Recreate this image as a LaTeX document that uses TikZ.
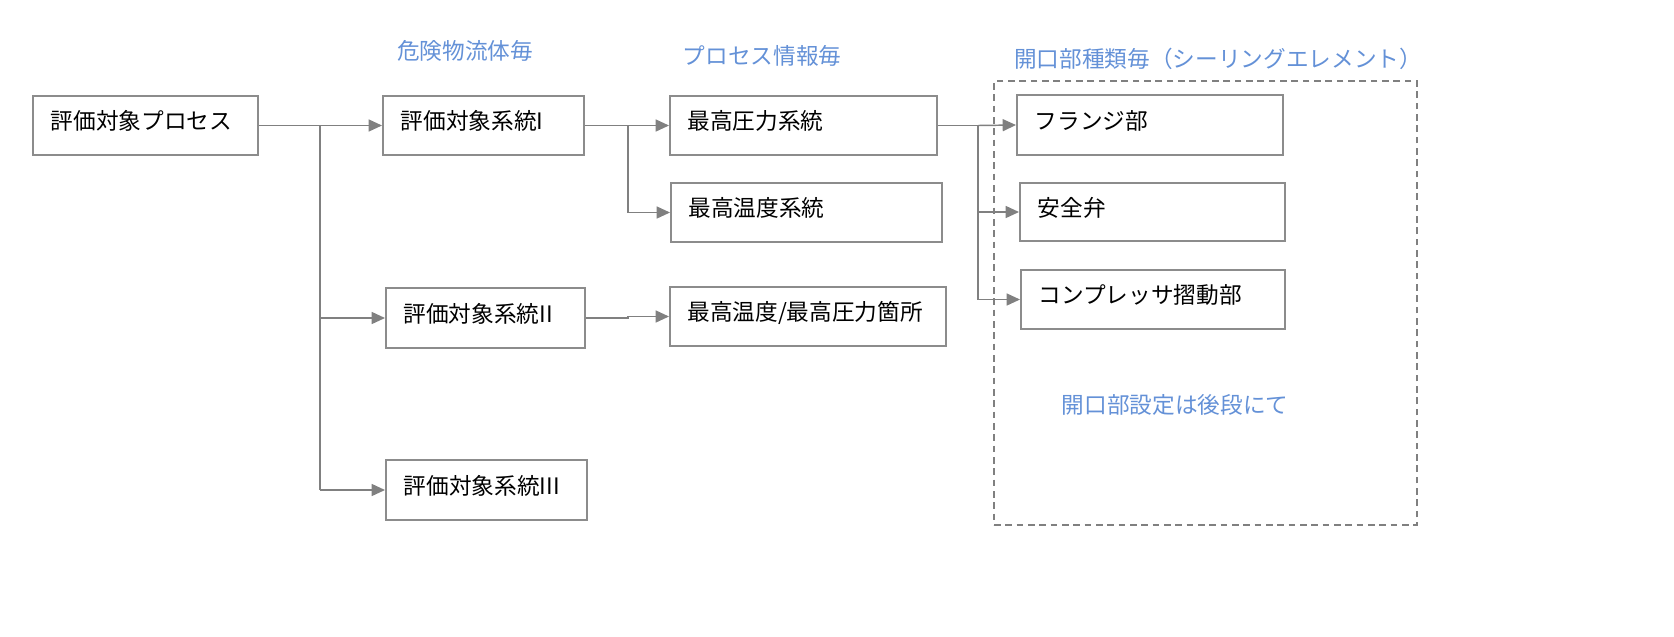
\documentclass[tikz,border=0pt]{standalone}
\usepackage{fontspec}
\setmainfont{Noto Sans CJK JP}
\usetikzlibrary{arrows.meta}
\definecolor{boxgray}{RGB}{140,140,140}
\definecolor{linegray}{RGB}{128,128,128}
\definecolor{lblblue}{RGB}{100,145,215}
\begin{document}
\begin{tikzpicture}[x=0.75pt,y=-0.75pt,
  every node/.style={font=\fontsize{17}{20}\selectfont},
  box/.style={draw=boxgray,line width=1.5pt,rectangle,inner xsep=13pt,inner ysep=0pt,
    align=left,text height=14pt,text depth=8pt},
  lbl/.style={text=lblblue,font=\fontsize{17}{20}\selectfont},
  conn/.style={draw=linegray,line width=1.1pt},
  arr/.style={conn,-{Triangle[length=10pt,width=9pt]}}]
\useasboundingbox (0,0) rectangle (1674,636);
% boxes
\node[box,minimum width=168.75pt,minimum height=44.25pt,text width=142pt] (A) at (145.5,125.5) {評価対象プロセス};
\node[box,minimum width=150.75pt,minimum height=44.25pt,text width=124pt] (B1) at (483.5,125.5) {評価対象系統I};
\node[box,minimum width=149.25pt,minimum height=45pt,text width=123pt] (B2) at (485.5,318) {評価対象系統II};
\node[box,minimum width=150.75pt,minimum height=45pt,text width=124pt] (B3) at (486.5,490) {評価対象系統III};
\node[box,minimum width=200.25pt,minimum height=44.25pt,text width=174pt] (C1) at (803.5,125.5) {最高圧力系統};
\node[box,minimum width=203.25pt,minimum height=44.25pt,text width=177pt] (C2) at (806.5,212.5) {最高温度系統};
\node[box,minimum width=207pt,minimum height=44.25pt,text width=181pt] (C3) at (808,316.5) {最高温度/最高圧力箇所};
\node[box,minimum width=199.5pt,minimum height=45pt,text width=173pt] (D1) at (1150,125) {フランジ部};
\node[box,minimum width=198.75pt,minimum height=43.5pt,text width=172pt] (D2) at (1152.5,212) {安全弁};
\node[box,minimum width=198pt,minimum height=44.25pt,text width=172pt] (D3) at (1153,299.5) {コンプレッサ摺動部};
% dashed frame
\node[draw=linegray,line width=1.1pt,dash pattern=on 5pt off 3.5pt,rectangle,minimum width=317.25pt,minimum height=333pt,inner sep=0pt] (F) at (1205.5,303) {};
% labels
\node[lbl] (L1) at (465,51) {危険物流体毎};
\node[lbl] (L2) at (762,55.5) {プロセス情報毎};
\node[lbl] (L3) at (1218,59) {開口部種類毎（シーリングエレメント）};
\node[lbl] (L4) at (1175,405) {開口部設定は後段にて};
% trunk coordinates
\coordinate (T1) at (320,489);
\coordinate (T2) at (628,212.5);
\coordinate (T3) at (978,299.5);
% connectors
\draw[conn] (A.east) -| (T1) -- (T1 |- B3.west);
\draw[arr] (A.east -| T1) -- (B1.west);
\draw[arr] (T1 |- B2.west) -- (B2.west);
\draw[arr] (T1 |- B3.west) -- (B3.west);
\draw[conn] (B1.east) -| (T2);
\draw[arr] (B1.east -| T2) -- (C1.west);
\draw[arr] (T2) -- (C2.west);
\draw[arr] (B2.east) -- (B2.east -| T2) |- (C3.west);
\draw[conn] (C1.east) -| (T3);
\draw[arr] (C1.east -| T3) -- (D1.west);
\draw[arr] (T3 |- D2.west) -- (D2.west);
\draw[arr] (T3) -- (D3.west);
\end{tikzpicture}
\end{document}
